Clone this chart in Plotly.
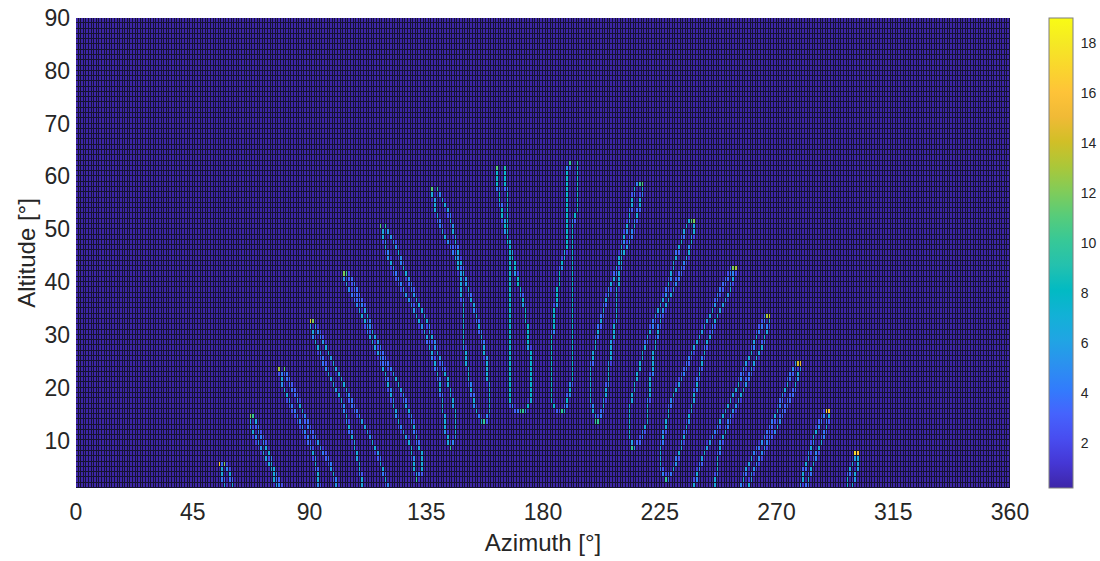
import numpy as np
import plotly.graph_objects as go

# ---------------- tick labels ----------------
AZ_TICKS = [0, 45, 90, 135, 180, 225, 270, 315, 360]
ALT_TICKS = [10, 20, 30, 40, 50, 60, 70, 80, 90]
CBAR_TICKS = [2, 4, 6, 8, 10, 12, 14, 16, 18]

# ---------------- sun-path loops: (azimuth, altitude) vertices, top -> bottom ----------------
loop01_a = [(55.9, 5.8), (56.8, 2.6), (58.1, 1.0)]
loop01_b = [(57.4, 5.8), (59.4, 3.9), (60.6, 1.0)]
loop02_a = [(67.1, 14.6), (68.3, 11.4), (70.9, 8.9), (73.5, 6.4), (76.1, 3.9), (77.4, 1.0)]
loop02_b = [(68.5, 14.6), (70.9, 11.4), (72.9, 9.5), (74.8, 7.0), (76.7, 3.9), (79.3, 1.0)]
loop03_a = [(78.6, 23.7), (79.9, 20.3), (82.5, 17.1), (85.7, 14.0), (88.9, 10.8), (91.5, 7.7), (92.8, 5.1), (94.1, 1.0)]
loop03_b = [(80.0, 23.7), (82.5, 20.9), (85.1, 18.4), (87.6, 15.2), (90.2, 12.1), (94.1, 8.9), (97.9, 5.8), (101.1, 1.0)]
loop04_a = [(90.2, 32.5), (92.1, 29.1), (94.7, 25.9), (97.9, 22.2), (101.1, 19.0), (103.7, 15.9), (105.6, 12.1), (107.6, 8.9), (109.5, 5.1), (110.7, 1.0)]
loop04_b = [(91.5, 32.5), (94.7, 29.7), (97.3, 26.6), (100.5, 23.4), (103.7, 20.3), (106.9, 16.5), (110.7, 13.3), (114.0, 10.2), (117.2, 6.4), (120.4, 1.0)]
loop05_a = [(103.0, 41.6), (104.5, 39.5), (107.5, 37.0), (111.0, 33.0), (114.0, 29.0), (117.5, 25.3), (120.4, 20.9), (122.3, 17.1), (124.9, 12.7), (128.8, 9.5), (130.7, 5.1), (131.3, 2.6)]
loop05_b = [(104.3, 41.6), (106.3, 40.4), (109.0, 37.5), (111.5, 34.8), (114.6, 30.4), (119.1, 25.3), (123.6, 21.5), (126.8, 17.8), (130.0, 13.3), (132.0, 9.5), (133.9, 6.7), (133.3, 3.6), (131.3, 2.6)]
loop06_a = [(117.8, 50.5), (119.7, 46.1), (122.3, 42.3), (126.2, 38.5), (130.0, 35.4), (132.6, 32.2), (135.2, 29.7), (137.7, 25.9), (140.3, 20.9), (141.6, 16.5), (142.9, 11.4), (144.2, 8.6)]
loop06_b = [(119.2, 50.5), (123.6, 46.8), (126.2, 43.0), (128.8, 39.8), (132.0, 36.0), (135.2, 32.9), (139.0, 27.2), (142.9, 22.2), (146.1, 15.9), (146.1, 10.2), (144.2, 8.6)]
loop07_a = [(137.7, 57.5), (138.4, 53.7), (140.3, 51.2), (142.9, 48.0), (145.4, 46.1), (147.4, 43.6), (148.7, 39.8), (149.3, 33.5), (150.0, 27.2), (151.9, 20.9), (154.5, 15.2), (157.0, 13.6)]
loop07_b = [(139.0, 57.5), (141.6, 55.6), (144.2, 52.4), (146.1, 48.6), (148.0, 44.2), (150.6, 39.8), (154.5, 33.5), (157.7, 27.2), (159.0, 20.9), (159.0, 14.6), (157.7, 13.6)]
loop08_a = [(162.2, 61.5), (162.8, 58.0), (164.5, 53.0), (167.3, 46.1), (167.3, 33.5), (167.3, 17.1), (169.2, 16.0), (171.2, 15.5)]
loop08_b = [(165.4, 61.5), (166.3, 55.6), (166.3, 49.3), (167.8, 46.1), (169.2, 43.6), (170.5, 39.8), (172.4, 36.7), (173.7, 33.5), (175.0, 27.2), (175.0, 17.1), (173.7, 15.5), (172.4, 15.5)]
loop09_a = [(190.4, 62.5), (189.2, 60.0), (189.2, 46.1), (187.2, 43.0), (185.3, 36.7), (184.0, 30.4), (183.4, 24.0), (183.4, 17.8), (185.3, 15.5), (187.9, 15.5)]
loop09_b = [(193.0, 62.5), (193.0, 53.0), (191.7, 51.2), (191.1, 46.1), (191.1, 20.9), (189.2, 16.5), (187.9, 15.5)]
loop10_a = [(217.4, 58.7), (215.5, 57.8), (213.6, 52.4), (210.4, 46.1), (209.1, 43.0), (204.6, 36.7), (201.4, 30.4), (198.8, 24.0), (198.8, 17.1), (200.7, 13.6)]
loop10_b = [(218.7, 58.7), (217.4, 54.3), (214.8, 49.3), (211.0, 45.0), (209.1, 39.8), (208.4, 33.5), (206.5, 27.2), (205.2, 20.9), (203.3, 15.9), (201.4, 13.6)]
loop11_a = [(237.0, 51.8), (235.4, 50.5), (231.5, 44.8), (227.7, 38.0), (222.6, 32.2), (219.0, 27.0), (216.5, 22.0), (214.0, 17.1), (213.0, 11.5), (214.8, 8.6)]
loop11_b = [(238.6, 51.8), (238.6, 49.9), (236.0, 44.8), (230.3, 38.5), (225.8, 33.5), (223.0, 27.0), (221.5, 20.0), (220.0, 13.0), (217.4, 9.5), (214.8, 8.6)]
loop12_a = [(253.3, 42.5), (250.5, 40.0), (248.3, 38.0), (245.1, 34.1), (241.2, 30.4), (236.7, 25.3), (231.5, 19.6), (229.0, 16.5), (227.7, 13.3), (225.8, 8.9), (225.8, 4.5), (227.7, 2.6)]
loop12_b = [(254.4, 42.5), (252.1, 37.9), (247.0, 33.0), (243.1, 27.8), (240.6, 22.8), (238.0, 17.1), (235.4, 12.1), (232.8, 7.7), (230.3, 4.2), (227.7, 2.6)]
loop13_a = [(266.2, 33.6), (265.6, 32.9), (263.0, 30.4), (260.5, 26.6), (257.2, 22.8), (254.7, 19.6), (252.1, 17.1), (249.5, 14.6), (247.6, 12.1), (245.1, 10.2), (243.1, 8.3), (241.2, 5.8), (239.3, 3.3), (238.6, 1.0)]
loop13_b = [(267.5, 33.6), (267.8, 32.9), (266.2, 30.4), (264.3, 27.2), (261.8, 24.7), (258.6, 20.9), (256.0, 17.8), (252.8, 14.6), (250.8, 12.1), (248.9, 9.6), (247.6, 6.4), (247.0, 3.3), (246.7, 1.0)]
loop14_a = [(278.2, 24.7), (277.2, 24.0), (274.6, 20.9), (272.7, 18.4), (270.7, 15.9), (268.8, 13.3), (266.2, 10.8), (263.7, 8.9), (261.1, 7.0), (258.6, 4.5), (256.6, 1.0)]
loop14_b = [(279.1, 24.7), (279.1, 23.4), (277.2, 19.6), (274.6, 17.1), (272.1, 14.6), (270.1, 12.1), (267.5, 10.2), (265.6, 8.3), (263.7, 6.4), (261.1, 3.9), (259.2, 1.0)]
loop15_a = [(289.4, 15.5), (288.7, 14.9), (286.8, 13.3), (284.9, 10.8), (283.0, 7.7), (281.0, 4.5), (279.7, 1.0)]
loop15_b = [(290.3, 15.5), (290.4, 14.6), (289.4, 12.1), (287.4, 9.6), (285.5, 7.0), (283.6, 4.5), (281.7, 1.0)]
loop16_a = [(300.9, 7.6), (300.3, 6.4), (298.4, 4.5), (297.1, 1.0)]
loop16_b = [(301.6, 7.6), (302.0, 6.7), (301.2, 4.5), (299.4, 1.0)]

LOOPS_A = [loop01_a, loop02_a, loop03_a, loop04_a, loop05_a, loop06_a, loop07_a, loop08_a,
           loop09_a, loop10_a, loop11_a, loop12_a, loop13_a, loop14_a, loop15_a, loop16_a]
LOOPS_B = [loop01_b, loop02_b, loop03_b, loop04_b, loop05_b, loop06_b, loop07_b, loop08_b,
           loop09_b, loop10_b, loop11_b, loop12_b, loop13_b, loop14_b, loop15_b, loop16_b]

# counts
TIP_A = [16, 12, 13, 16, 12, 11, 11, 11, 10, 10, 11, 12, 13, 14, 17, 17]   # top cell of branch a
TIP_B = [12, 10, 11, 12, 10, 9, 9, 9, 9, 11, 12, 13, 14, 15, 16, 16]        # top cell of branch b
LINE_VAL = [6.5, 6.5, 6.5, 6.5, 6.5, 6.5, 6.5, 7.5, 7.5, 6.5, 6.5, 6.5, 6.5, 6.5, 6.5, 6.5]  # counts per altitude row
BOTTOM_VAL = [0, 0, 0, 0, 10, 10, 10, 10, 10, 10, 10, 10, 0, 0, 0, 0]      # winter turning point (0 = off chart)

# ---------------- grid (1 deg bins) ----------------
N_AZ, ALT_MIN, ALT_MAX = 360, 1, 90
az_centers = np.arange(N_AZ) + 0.5
alt_centers = np.arange(ALT_MIN, ALT_MAX) + 0.5
z = np.zeros((ALT_MAX - ALT_MIN, N_AZ))


def cell(a, h):
    c = int(np.clip(np.floor(a), 0, N_AZ - 1))
    r = int(np.clip(np.floor(h) - ALT_MIN, 0, ALT_MAX - ALT_MIN - 1))
    return r, c


def rasterize(branch, total):
    pts = np.asarray(branch, dtype=float)
    hits = {}
    for (a0, h0), (a1, h1) in zip(pts[:-1], pts[1:]):
        n = max(4, int(np.hypot(a1 - a0, h1 - h0) * 60))
        for t in np.arange(n) / n:
            r, c = cell(a0 + (a1 - a0) * t, h0 + (h1 - h0) * t)
            hits.setdefault(r, {}).setdefault(c, 0)
            hits[r][c] += 1
    for r, cols in hits.items():
        s = sum(cols.values())
        for c, k in cols.items():
            z[r, c] = max(z[r, c], total * k / s)


for i in range(len(LOOPS_A)):
    rasterize(LOOPS_A[i], LINE_VAL[i])
    rasterize(LOOPS_B[i], LINE_VAL[i])
for i in range(len(LOOPS_A)):
    ra, ca = cell(*LOOPS_A[i][0])
    rb, cb = cell(*LOOPS_B[i][0])
    z[rb, cb] = TIP_B[i]
    z[ra, ca] = TIP_A[i]
    if BOTTOM_VAL[i]:
        r1, c1 = cell(*LOOPS_A[i][-1])
        r2, c2 = cell(*LOOPS_B[i][-1])
        z[r1, c1] = BOTTOM_VAL[i]
        z[r2, c2] = BOTTOM_VAL[i]

# ---------------- MATLAB parula ----------------
PARULA = [
    (0.2422, 0.1504, 0.6603), (0.2706, 0.2147, 0.8364), (0.2813, 0.3006, 0.9414), (0.2699, 0.3892, 0.9906),
    (0.1963, 0.4847, 0.9892), (0.1687, 0.5703, 0.9359), (0.1248, 0.6459, 0.8883), (0.0689, 0.6948, 0.8394),
    (0.0067, 0.7312, 0.7660), (0.1408, 0.7584, 0.6842), (0.2161, 0.7843, 0.5923), (0.3406, 0.8008, 0.4789),
    (0.5044, 0.7993, 0.3480), (0.6720, 0.7793, 0.2227), (0.8203, 0.7498, 0.1535), (0.9393, 0.7288, 0.2100),
    (0.9970, 0.7659, 0.2199), (0.9786, 0.8386, 0.1766), (0.9597, 0.9135, 0.1423), (0.9769, 0.9839, 0.0805),
]
colorscale = [[i / (len(PARULA) - 1), "rgb(%d,%d,%d)" % tuple(round(v * 255) for v in c)] for i, c in enumerate(PARULA)]

FONT = "Arial, 'Liberation Sans', Helvetica, sans-serif"
TXT = "#262626"

fig = go.Figure(go.Heatmap(
    x=az_centers, y=alt_centers, z=z,
    colorscale=colorscale, zmin=0.2, zmax=19,
    xgap=1, ygap=1,
    colorbar=dict(
        x=(1049 - 76) / 934, xanchor="left", xpad=0,
        y=0.5, yanchor="middle", len=1.0, lenmode="fraction", ypad=0,
        thickness=24, outlinewidth=1, outlinecolor="#7f7f7f",
        tickvals=CBAR_TICKS, ticks="outside", ticklen=5, tickcolor="rgba(0,0,0,0)",
        tickfont=dict(family=FONT, size=14, color=TXT),
    ),
    hoverongaps=False,
))

fig.update_layout(
    width=1100, height=561,
    margin=dict(l=76, r=90, t=18, b=73, autoexpand=False),
    paper_bgcolor="white", plot_bgcolor="#161332",
    font=dict(family=FONT, color=TXT),
)
fig.update_xaxes(
    range=[0, 360], tickvals=AZ_TICKS, ticks="", showgrid=False, zeroline=False,
    tickfont=dict(size=23, color=TXT), ticklabelstandoff=8,
    title=dict(text="Azimuth [°]", font=dict(size=24, color=TXT), standoff=10),
    automargin=False,
)
fig.update_yaxes(
    range=[ALT_MIN, ALT_MAX], tickvals=ALT_TICKS, ticks="", showgrid=False, zeroline=False,
    tickfont=dict(size=23, color=TXT), ticklabelstandoff=5,
    title=dict(text="Altitude [°]", font=dict(size=24, color=TXT), standoff=2),
    automargin=False,
)

fig.write_html("out.html")
